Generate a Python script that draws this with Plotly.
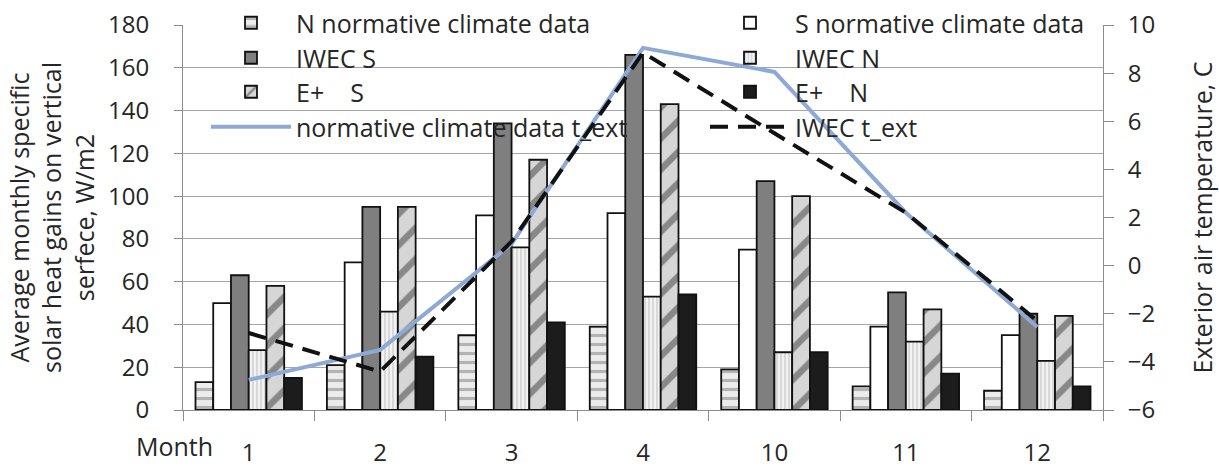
import plotly.graph_objects as go

# Months shown on the category axis
months = ["1", "2", "3", "4", "10", "11", "12"]

# Average monthly specific solar heat gains on vertical surface, W/m2
n_normative = [13, 21, 35, 39, 19, 11, 9]
s_normative = [50, 69, 91, 92, 75, 39, 35]
iwec_s = [63, 95, 134, 166, 107, 55, 45]
iwec_n = [28, 46, 76, 53, 27, 32, 23]
eplus_s = [58, 95, 117, 143, 100, 47, 44]
eplus_n = [15, 25, 41, 54, 27, 17, 11]

# Exterior air temperature, C
t_ext_normative = [-4.75, -3.5, 0.9, 9.05, 8.05, 2.2, -2.55]
t_ext_iwec = [-2.8, -4.4, 1.0, 8.85, 5.5, 2.2, -2.3]

FONT = "Open Sans"
TXT = "#262626"
TICK_SIZE = 24
TEXT_SIZE = 25
OUTLINE = dict(color="#111111", width=1.8)

# figure size and plot area (pixels); margins are zero and the axes use domains
FIG_W, FIG_H = 1219, 469
PLOT_L, PLOT_R, PLOT_T, PLOT_B = 183, 1103, 25, 410


def px_x(px):
    return px / FIG_W


def px_y(px):
    return 1 - px / FIG_H


fig = go.Figure()

bar_specs = [
    ("N normative climate data", n_normative,
     dict(color="#e4e4e4", line=OUTLINE,
          pattern=dict(shape="-", fgcolor="#7a7a7a", bgcolor="#ececec", size=9, solidity=0.35))),
    ("S normative climate data", s_normative,
     dict(color="#ffffff", line=OUTLINE)),
    ("IWEC S", iwec_s,
     dict(color="#7f7f7f", line=OUTLINE)),
    ("IWEC N", iwec_n,
     dict(color="#e8e8e8", line=OUTLINE,
          pattern=dict(shape="|", fgcolor="#9a9a9a", bgcolor="#f2f2f2", size=4, solidity=0.3))),
    ("E+    S", eplus_s,
     dict(color="#d0d0d0", line=OUTLINE,
          pattern=dict(shape="/", fgcolor="#3a3a3a", bgcolor="#d6d6d6", size=22, solidity=0.3))),
    ("E+    N", eplus_n,
     dict(color="#1c1c1c", line=OUTLINE)),
]

legend_ids = ["legend", "legend2", "legend3", "legend4",
              "legend5", "legend6", "legend7", "legend8"]

for i, (name, values, marker) in enumerate(bar_specs):
    fig.add_trace(go.Bar(x=months, y=values, name=name, marker=marker,
                         yaxis="y", legend=legend_ids[i]))

fig.add_trace(go.Scatter(
    x=months, y=t_ext_normative, name="normative climate data t_ext",
    mode="lines", line=dict(color="#8eaad4", width=4), yaxis="y2", legend=legend_ids[6]))
fig.add_trace(go.Scatter(
    x=months, y=t_ext_iwec, name="IWEC t_ext",
    mode="lines", line=dict(color="#111111", width=4, dash="18px,10px"),
    yaxis="y2", legend=legend_ids[7]))

# two-column legend: one legend box per entry, anchored by its top edge
ITEM_W = 80
col_text_x = [296, 795]
row_top_y = [0, 35, 69, 104]
legends = {}
for i, lid in enumerate(legend_ids):
    row, col = divmod(i, 2)
    start_px = col_text_x[col] - (ITEM_W + 10)
    legends[lid] = dict(
        x=px_x(start_px), y=px_y(row_top_y[row]),
        xanchor="left", yanchor="top", orientation="h",
        bgcolor="rgba(0,0,0,0)", borderwidth=0, itemwidth=ITEM_W,
        font=dict(family=FONT, size=TEXT_SIZE, color=TXT),
    )

fig.update_layout(
    width=FIG_W, height=FIG_H,
    margin=dict(l=0, r=0, t=0, b=0),
    paper_bgcolor="white", plot_bgcolor="white",
    font=dict(family=FONT, size=TICK_SIZE, color=TXT),
    barmode="group", bargap=0.19, bargroupgap=0,
    showlegend=True,
    xaxis=dict(
        domain=[px_x(PLOT_L), px_x(PLOT_R)],
        type="category", showgrid=False, showline=True, linecolor="#8c8c8c", linewidth=1,
        ticks="outside", tickson="boundaries", ticklen=10, tickcolor="#8c8c8c",
        tickfont=dict(family=FONT, size=TICK_SIZE, color=TXT), ticklabelstandoff=21,
        automargin=False,
    ),
    yaxis=dict(
        domain=[px_y(PLOT_B), px_y(PLOT_T)],
        range=[0, 180], dtick=20, showgrid=True, gridcolor="#a6a6a6", gridwidth=1,
        showline=True, linecolor="#8c8c8c", ticks="outside", ticklen=8, tickcolor="#8c8c8c",
        zeroline=False, tickfont=dict(family=FONT, size=TICK_SIZE, color=TXT),
        ticklabelstandoff=20, automargin=False,
        title=dict(text="Average monthly specific<br>solar heat gains on vertical<br>serfece, W/m2",
                   font=dict(family=FONT, size=TEXT_SIZE, color=TXT), standoff=6),
    ),
    yaxis2=dict(
        range=[-6, 10], dtick=2, overlaying="y", side="right", showgrid=False,
        showline=True, linecolor="#8c8c8c", ticks="outside", ticklen=10, tickcolor="#8c8c8c",
        zeroline=False, tickfont=dict(family=FONT, size=TICK_SIZE, color=TXT),
        ticklabelstandoff=9, automargin=False,
        title=dict(text="Exterior air temperature, C",
                   font=dict(family=FONT, size=TEXT_SIZE, color=TXT), standoff=39),
    ),
    annotations=[dict(
        text="Month", xref="paper", yref="paper", x=px_x(215), y=px_y(446),
        xanchor="right", yanchor="middle", showarrow=False,
        font=dict(family=FONT, size=TEXT_SIZE, color=TXT),
    )],
    **legends,
)

fig.write_html("out.html")
